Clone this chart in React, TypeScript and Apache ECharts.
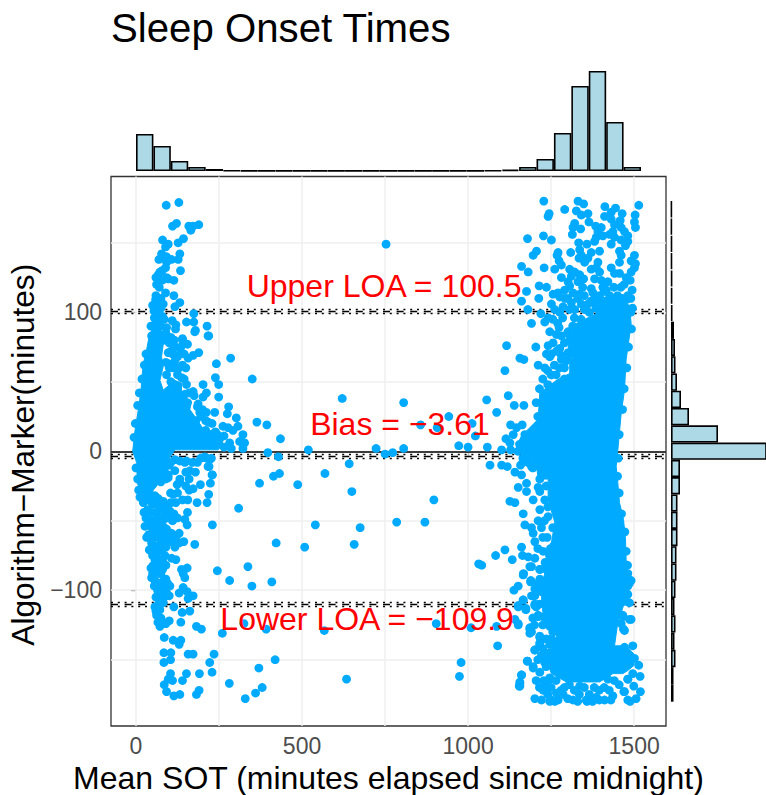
import React, { useEffect, useRef } from "react";
import * as echarts from "echarts";

const FONT = '"Liberation Sans", Arial, sans-serif';

const titleText = "Sleep Onset Times";
const xName = "Mean SOT (minutes elapsed since midnight)";
const yName = "Algorithm\u2212Marker(minutes)";
const xTicks = [0, 500, 1000, 1500];
const yTicks = [-100, 0, 100];
const xGrid = [0, 250, 500, 750, 1000, 1250, 1500];
const yGrid = [-150, -100, -50, 0, 50, 100, 150];
const loaValues = [100.5, -3.61, -109.9];
const loaLabels: [number, number, string][] = [
  [747, 119, "Upper LOA = 100.5"],
  [795, 19.5, "Bias = \u22123.61"],
  [696, -121, "Lower LOA = \u2212109.9"],
];

// Marginal histograms (counts)
const topBins = [370, 250, 100, 40, 20, 6, 3, 3, 3, 2, 2, 2, 2, 3, 2, 2, 2, 2, 3, 3, 6, 13, 40, 120, 380, 850, 1000, 490, 40];
const rightBins = [25, 25, 45, 35, 45, 35, 45, 55, 55, 65, 65, 65, 90, 90, 3000, 470, 180, 100, 60, 45, 40, 30, 14, 12, 12, 10, 10, 8, 8];

// Solid, fully overplotted regions, outlined from the picture
const leftSolid = [[-10,0],[-3,15],[7,30],[15,44],[19,56],[22,63],[32,73],[39,82],[47,87],[72,85],[82,77],[77,68],[82,61],[72,51],[82,44],[117,51],[137,49],[137,40],[167,36],[162,30],[177,25],[197,18],[217,11],[257,11],[262,5],[247,1],[117,1],[92,-8],[97,-14],[62,-25],[42,-31],[17,-31],[4,-23],[2,-8]];
const rightSolid = [[1326,92],[1386,99],[1386,109],[1436,111],[1486,105],[1491,92],[1486,83],[1476,66],[1471,44],[1461,27],[1451,1],[1446,-11],[1451,-23],[1456,-37],[1468,-49],[1474,-63],[1476,-78],[1484,-92],[1484,-104],[1471,-109],[1451,-123],[1441,-140],[1476,-140],[1500,-146],[1500,-154],[1480,-158],[1466,-160],[1436,-160],[1396,-166],[1296,-166],[1251,-160],[1238,-152],[1251,-142],[1266,-133],[1231,-123],[1221,-106],[1226,-92],[1241,-80],[1251,-66],[1261,-51],[1241,-35],[1241,-20],[1211,-20],[1206,-10],[1161,-2],[1146,4],[1161,11],[1211,23],[1216,42],[1266,51],[1306,56],[1306,68],[1316,66],[1301,75],[1321,92]];

const leftPoints = [[91,177],[129,179],[122,164],[110,162],[189,163],[172,162],[159,162],[165,159],[80,152],[97,149],[89,147],[143,153],[127,150],[77,142],[69,138],[92,140],[92,136],[107,138],[132,142],[127,138],[134,130],[89,132],[79,130],[72,129],[67,127],[92,125],[79,123],[114,123],[62,120],[97,124],[89,114],[114,112],[60,112],[59,109],[57,105],[132,107],[117,104],[82,106],[75,103],[54,101],[174,99],[67,99],[80,97],[62,96],[59,92],[152,93],[174,93],[109,94],[120,91],[214,90],[92,89],[119,88],[179,87],[62,87],[47,83],[217,83],[67,85],[140,81],[77,81],
[242,63],[285,67],[189,71],[219,83],[177,86],[140,80],[155,77],[119,75],[132,70],[172,69],[157,67],[97,71],[117,65],[97,63],[112,60],[137,53],[239,53],[202,48],[249,48],[350,52],[212,42],[202,39],[249,39],[152,48],[172,43],[147,41],[279,32],[187,34],[237,28],[212,28],[192,28],[275,27],[302,24],[217,21],[229,20],[262,18],[277,17],[292,15],[307,18],[322,12],[210,15],[239,14],[312,7],[327,6],[282,6],[322,2],[265,3],[287,2],[252,9],[232,8],[222,12],
[60,90],[45,90],[70,92],[55,96],[75,90],[85,80],[100,78],[105,72],[90,64],[100,60],[92,55],[120,60],[125,55],[105,50],[145,52],[160,42],[175,40],[155,35],[185,32],[200,30],[180,22],[195,25],[210,22],[225,12],[245,12],[265,11],[30,70],[25,62],[18,52],[10,42],[5,33],[-2,20],[-6,10],
[90,85],[105,82],[110,70],[115,80],[125,68],[130,60],[140,62],[150,60],[135,75],[145,70],[85,95],[50,105],[65,108],[75,110],[70,118],[60,125],
[117,-6],[132,-7],[147,-8],[207,-4],[222,-6],[217,-11],[162,-14],[179,-15],[229,-17],[117,-14],[132,-20],[97,-17],[152,-7],[212,-5],[227,-5],[220,-11],[230,-17],[194,-24],[224,-23],[172,-27],[160,-28],[219,-31],[156,-35],[184,-37],[214,-37],[132,-22],[124,-24],[97,-19],[104,-30],[112,-31],[57,-32],[22,-37],[82,-36],[67,-34],[102,-43],[114,-45],[87,-47],[24,-44],[72,-42],[155,-44],[147,-49],[154,-53],[230,-53],[40,-50],[27,-54],[52,-57],[72,-57],[92,-56],[107,-59],[130,-59],[122,-61],[32,-62],[47,-66],[67,-68],[102,-65],[144,-65],[177,-67],[117,-69],[40,-71],[87,-75],[57,-78],[107,-77],[120,-78],[75,-80],[52,-82],[62,-87],[137,-85],[154,-84],[142,-88],[147,-91],[47,-91],[57,-93],[90,-92],[70,-96],[102,-97],[87,-99],[142,-98],[130,-102],[154,-101],[172,-104],[157,-106],[100,-104],[70,-106],[82,-109],[57,-112],[72,-114],[114,-112],[62,-118],[139,-116],[162,-115],[100,-122],[90,-124],[135,-123],[72,-126],[182,-126],[197,-128],[85,-134],[112,-136],[130,-139],[135,-136],[84,-145],[105,-145],[157,-146],[172,-146],[235,-146],[104,-150],[84,-152],[222,-152],[229,-159],[104,-160],[152,-160],[191,-160],[140,-165],[110,-165],[97,-164],[85,-168],[92,-173],[114,-176],[132,-175],[182,-175],[190,-172],
[30,-34],[45,-36],[60,-38],[75,-40],[90,-40],[105,-37],[120,-37],[35,-42],[50,-44],[65,-47],[80,-50],[95,-48],[110,-50],[125,-48],[30,-48],[45,-54],[60,-52],[72,-50],[85,-55],[100,-60],[38,-60],[55,-62],[70,-62],[85,-63],[115,-63],[130,-66],[62,-73],[75,-72],[90,-69],[50,-75],[80,-78],[65,-85],[45,-84],[55,-97],[65,-100],[80,-94],[75,-88],[60,-105],[68,-110],[80,-103],[92,-102],[5,-20],[0,-12],[8,-28],[12,-33],[25,-28],[40,-30],[75,-22],[85,-16],[100,-10],[105,-8],[90,-20],
[20,-28],[35,-35],[50,-38],[68,-40],[85,-42],[100,-45],[35,-48],[52,-50],[68,-53],[82,-60],[95,-62],[108,-65],[60,-58],[75,-65],[45,-70],[55,-68],[65,-78],[90,-82],[70,-88],[80,-85],[50,-88],[72,-102],[95,-95],[85,-105],[60,-115],[75,-120],[66,-123],[125,-30],[140,-35],[150,-25],[160,-20],[150,-15],[170,-8],[185,-8],[195,-5]];

const middlePoints = [[753,149],[364,21],[394,19],[435,9],[519,1],[397,-1],[429,-4],[621,38],[806,35],[857,19],[907,17],[942,25],[1012,20],[1022,11],[723,2],[750,-2],[773,-1],[806,2],[972,4],[1000,3],[642,-9],[569,-16],[432,-16],[414,-18],[372,-23],[487,-24],[650,-29],[897,-35],[309,-41],[540,-53],[785,-51],[870,-51],[675,-55],[422,-66],[508,-69],[657,-67],[1032,-81],[337,-83],[245,-86],[282,-93],[409,-94],[349,-97],[325,-124],[260,-131],[392,-128],[567,-129],[904,-124],[1009,-127],[419,-150],[370,-156],[979,-152],[974,-162],[634,-164],[281,-167],[380,-170],[360,-174],[329,-178]];

const rightPoints = [[1228,180],[1331,180],[1348,178],[1412,176],[1444,175],[1514,177],[1431,172],[1244,171],[1241,169],[1291,174],[1326,173],[1341,170],[1361,171],[1464,171],[1411,169],[1503,170],[1431,167],[1458,166],[1321,164],[1364,165],[1441,163],[1501,165],[1504,161],[1384,162],[1401,161],[1461,161],[1316,161],[1339,160],[1314,156],[1391,158],[1436,158],[1471,158],[1386,154],[1406,155],[1426,156],[1441,154],[1481,155],[1461,152],[1381,151],[1179,153],[1227,155],[1251,152],[1333,150],[1358,149],[1431,149],[1481,151],[1474,148],[1336,145],[1396,144],[1456,144],[1206,144],[1196,141],[1271,143],[1268,141],[1309,143],[1371,143],[1341,141],[1501,141],[1461,141],[1334,139],[1361,139],[1351,136],[1391,136],[1274,137],[1491,137],[1456,136],[1281,134],[1504,135],[1386,132],[1161,133],[1229,132],[1261,131],[1306,131],[1371,131],[1431,132],[1501,132],[1181,129],[1321,129],[1396,129],[1441,128],[1456,128],[1491,129],[1311,126],[1336,127],[1348,124],[1281,125],[1381,124],[1401,123],[1476,125],[1488,123],[1301,122],[1331,122],[1421,122],[1214,119],[1236,118],[1306,119],[1406,118],[1439,118],[1371,117],[1176,115],[1376,114],[1416,116],[1494,116],[1291,116],[1316,114],[1336,113],[1256,113],[1271,114],[1481,112],[1161,108],[1213,110],[1276,111],[1291,110],[1396,112],[1426,112],[1476,109],[1311,107],[1341,106],[1361,106],[1251,106],[1381,109],[1386,105],[1180,102],[1286,104],[1261,102],[1306,102],[1219,99],[1241,96],[1231,93],[1191,92],[1276,100],[1321,102],[1351,102],[1396,102],[1246,86],[1274,89],[1301,86],[1281,83],[1266,84],[1241,76],[1116,76],[1204,75],[1156,67],[1276,74],[1306,80],[1236,70],[1246,68],[1281,69],[1301,71],
[1256,78],[1266,72],[1290,78],[1295,65],[1260,62],[1275,60],[1240,58],[1225,52],[1250,55],[1290,52],[1460,118],[1470,120],[1350,112],[1370,108],[1410,115],[1450,112],[1330,110],[1300,110],[1320,96],[1285,96],[1270,92],[1255,95],[1345,118],[1490,110],[1495,103],
[1168,66],[1111,58],[1271,72],[1281,66],[1211,62],[1231,60],[1251,70],[1121,40],[1056,37],[1139,33],[1168,33],[1086,28],[1128,19],[1163,19],[1146,17],[1136,12],[1201,15],[1171,12],[1114,9],[1126,6],[1101,1],[1058,3],[1128,1],[1066,-10],[1101,-10],[1118,-11],[1158,-10],[1141,-15],[1161,-17],[1191,-11],[1176,-23],[1151,-26],[1176,-29],[1211,-26],[1216,-29],[1126,-36],[1141,-37],[1196,-35],[1231,-35],[1216,-42],[1166,-45],[1241,-47],[1171,-53],[1211,-50],[1191,-55],[1221,-55],[1196,-59],[1201,-65],[1226,-72],[1161,-69],[1083,-75],[1111,-71],[1164,-75],[1181,-76],[1201,-77],[1133,-78],[1041,-82],[1186,-83],[1216,-85],[1167,-88],[1189,-93],[1216,-92],[1151,-97],[1138,-100],[1201,-99],[1191,-104],[1166,-107],[1151,-112],[1174,-113],[1201,-111],[1211,-118],[1151,-124],[1086,-126],[1186,-128],[1191,-130],[1216,-133],[1216,-138],[1089,-140],[1201,-143],[1221,-147],[1179,-151],[1196,-155],[1216,-159],[1161,-161],[1156,-166],[1154,-169],[1246,-164],[1236,-169],[1201,-178],[1221,-179],[1251,-179],[1271,-179],[1316,-179],[1356,-179],[1411,-179],[1436,-176],[1469,-173],[1481,-179],[1506,-178],[1519,-173],[1499,-169],[1518,-162],[1481,-164],[1496,-160],[1514,-154],[1501,-149],[1496,-140],[1471,-141],[1456,-149],[1436,-153],[1411,-159],[1421,-164],[1376,-161],[1336,-169],[1486,-121],[1466,-118],[1468,-128],[1461,-124],[1486,-109],[1474,-103],[1476,-90],[1491,-93],[1446,-91],[1466,-87],[1481,-97],
[1216,-85],[1241,-84],[1191,-83],[1188,-94],[1166,-89],[1226,-96],[1201,-104],[1221,-101],[1166,-107],[1151,-111],[1174,-114],[1201,-110],[1211,-119],[1236,-114],[1226,-119],[1246,-126],[1141,-121],[1151,-125],[1186,-127],[1186,-131],[1216,-134],[1216,-139],[1251,-135],[1246,-139],[1201,-143],[1231,-147],[1178,-151],[1196,-156],[1231,-152],[1246,-150],[1161,-161],[1156,-167],[1156,-169],[1246,-163],[1226,-172],[1246,-180],[1261,-180],[1266,-174],[1286,-175],[1358,-180],[1386,-177],[1471,-173],[1488,-180],[1481,-164],[1441,-147],[1491,-121],[1466,-119],[1471,-129],[1481,-103],[1474,-108],[1486,-95],[1481,-88],[1456,-89],
[1290,-170],[1305,-168],[1320,-172],[1335,-175],[1350,-170],[1365,-175],[1380,-170],[1395,-172],[1410,-170],[1425,-172],[1440,-165],[1455,-168],[1300,-178],[1330,-180],[1375,-180],[1395,-179],[1430,-179],
[1210,-70],[1225,-62],[1238,-62],[1230,-50],[1248,-70],[1232,-80],[1210,-95],[1205,-112],[1195,-120],[1235,-135],[1225,-142],[1210,-150],[1205,-165],[1215,-170],[1250,-170],[1240,-175],[1265,-165],[1280,-172],[1200,-125],
[1216,-20],[1225,-15],[1210,-5],[1200,0],[1185,4],[1170,8],[1155,5],[1150,0],[1165,-5],[1180,-8],[1195,-12],[1235,-25],[1240,-40],[1255,-55],[1258,-68],[1245,-75],[1235,-85],[1222,-100],[1215,-110],[1225,-125],[1255,-130],[1260,-138],[1245,-145],[1235,-155],[1228,-165],[1210,25],[1205,35],[1215,45],[1240,48],[1265,55],[1290,60],[1305,70],[1300,85],[1315,90],[1340,95],[1365,100],[1385,103],[1410,108],[1440,110],[1465,110],[1490,100],[1492,88],[1483,75],[1478,60],[1470,45],[1465,30],[1455,12],[1452,-5],[1450,-18],[1455,-30],[1462,-45],[1472,-58],[1476,-72],[1480,-82]];

const POINT = "#00AAFF";
const GRID = "#EFEFEF";
const HIST_FILL = "#ADD8E6";

function solidSeries(vertices: number[][]) {
  return {
    type: "custom",
    xAxisIndex: 0,
    yAxisIndex: 0,
    z: 3,
    silent: true,
    clip: true,
    encode: { x: 0, y: 1 },
    data: vertices,
    renderItem: (params: any, api: any) => {
      if (params.dataIndex !== 0) return null;
      return {
        type: "polygon",
        shape: { points: vertices.map((p) => api.coord(p)) },
        style: { fill: POINT, stroke: POINT, lineWidth: 1 },
      };
    },
  };
}

const tickLabel = (v: number) => String(v).replace("-", "\u2212");

export default function App() {
  const ref = useRef<HTMLDivElement>(null);
  useEffect(() => {
    const chart = echarts.init(ref.current!, undefined, { renderer: "svg" });
    const gridLines = [
      ...xGrid.map((v) => ({ xAxis: v })),
      ...yGrid.map((v) => ({ yAxis: v })),
    ];
    const loaDots: any[] = [];
    const loaDash: any[] = [];
    loaValues.forEach((v) => {
      loaDash.push({ yAxis: v });
      loaDots.push({ yAxis: v + 1.5 });
      loaDots.push({ yAxis: v - 1.5 });
    });
    chart.setOption({
      animation: false,
      title: {
        text: titleText,
        left: 106,
        top: 3,
        textStyle: { fontFamily: FONT, fontSize: 40.2, fontWeight: "normal", color: "#000" },
      },
      grid: [
        { left: 111, top: 176.5, width: 555, height: 549.5, show: true, borderColor: "#333333", borderWidth: 1.3, backgroundColor: "#fff", containLabel: false, outerBoundsMode: "none" },
        { left: 136, top: 71, width: 505, height: 100, outerBoundsMode: "none" },
        { left: 671, top: 200.7, width: 95, height: 501, outerBoundsMode: "none" },
      ],
      xAxis: [
        {
          gridIndex: 0, type: "value", min: -75.3, max: 1596, scale: true,
          splitLine: { show: false },
          axisLine: { show: false },
          axisTick: { show: true, length: 5, lineStyle: { color: "#333333", width: 1.2 }, customValues: xTicks },
          axisLabel: { fontFamily: FONT, fontSize: 23, color: "#4D4D4D", margin: 8, customValues: xTicks, formatter: tickLabel },
          name: xName, nameLocation: "middle", nameGap: 29,
          nameTextStyle: { fontFamily: FONT, fontSize: 32, color: "#000" },
        },
        { gridIndex: 1, type: "category", data: topBins.map((_, i) => String(i)), show: false },
        { gridIndex: 2, type: "value", min: 0, max: 950, show: false },
      ],
      yAxis: [
        {
          gridIndex: 0, type: "value", min: -197.7, max: 197.7,
          splitLine: { show: false },
          axisLine: { show: false },
          axisTick: { show: true, length: 5, lineStyle: { color: "#333333", width: 1.2 }, customValues: yTicks },
          axisLabel: { fontFamily: FONT, fontSize: 23, color: "#4D4D4D", margin: 9, customValues: yTicks, formatter: tickLabel },
          name: yName, nameLocation: "middle", nameGap: 63,
          nameTextStyle: { fontFamily: FONT, fontSize: 31.6, color: "#000", padding: [0, 7, 0, 0] },
        },
        { gridIndex: 1, type: "value", min: 0, max: 1000, show: false },
        { gridIndex: 2, type: "category", data: rightBins.map((_, i) => String(i)), show: false },
      ],
      series: [
        {
          type: "scatter", xAxisIndex: 0, yAxisIndex: 0, data: [], z: 1, silent: true,
          markLine: { z: 1, silent: true, symbol: "none", label: { show: false }, precision: 4, lineStyle: { color: GRID, width: 1.5, type: "solid" }, data: gridLines },
        },
        {
          type: "scatter", xAxisIndex: 0, yAxisIndex: 0, data: [], z: 2, silent: true,
          markLine: { z: 2, silent: true, symbol: "none", label: { show: false }, precision: 4, lineStyle: { color: "#000", width: 1.6, type: "solid" }, data: [{ yAxis: 0 }] },
        },
        {
          type: "scatter", xAxisIndex: 0, yAxisIndex: 0, data: [], z: 2, silent: true,
          markLine: { z: 2, silent: true, symbol: "none", label: { show: false }, precision: 4, lineStyle: { color: "#000", width: 1.4, type: [7, 6.6] }, data: loaDash },
        },
        {
          type: "scatter", xAxisIndex: 0, yAxisIndex: 0, data: [], z: 2, silent: true,
          markLine: { z: 2, silent: true, symbol: "none", label: { show: false }, precision: 4, lineStyle: { color: "#000", width: 1.4, type: [2, 4.8] }, data: loaDots },
        },
        solidSeries(leftSolid),
        solidSeries(rightSolid),
        {
          type: "scatter", xAxisIndex: 0, yAxisIndex: 0, z: 4, symbolSize: 8.8, silent: true,
          itemStyle: { color: POINT, opacity: 1 },
          data: [...leftPoints, ...middlePoints, ...rightPoints],
        },
        {
          type: "scatter", xAxisIndex: 0, yAxisIndex: 0, z: 5, symbolSize: 0, silent: true,
          data: loaLabels.map((d) => ({ value: [d[0], d[1]], name: d[2] })),
          label: { show: true, position: "inside", formatter: "{b}", fontFamily: FONT, fontSize: 32, color: "#FF0000", textBorderWidth: 0, textBorderColor: "transparent", opacity: 1 },
        },
        {
          type: "bar", xAxisIndex: 1, yAxisIndex: 1, data: topBins, barWidth: "100%", barCategoryGap: 0, silent: true,
          itemStyle: { color: HIST_FILL, borderColor: "#000", borderWidth: 1.6 },
        },
        {
          type: "bar", xAxisIndex: 2, yAxisIndex: 2, data: rightBins, barWidth: "100%", barCategoryGap: 0, silent: true,
          itemStyle: { color: HIST_FILL, borderColor: "#000", borderWidth: 1.6 },
        },
      ],
    });
    return () => chart.dispose();
  }, []);
  return <div ref={ref} style={{ position: "fixed", left: 0, top: 0, width: 766, height: 795, background: "#fff" }} />;
}
